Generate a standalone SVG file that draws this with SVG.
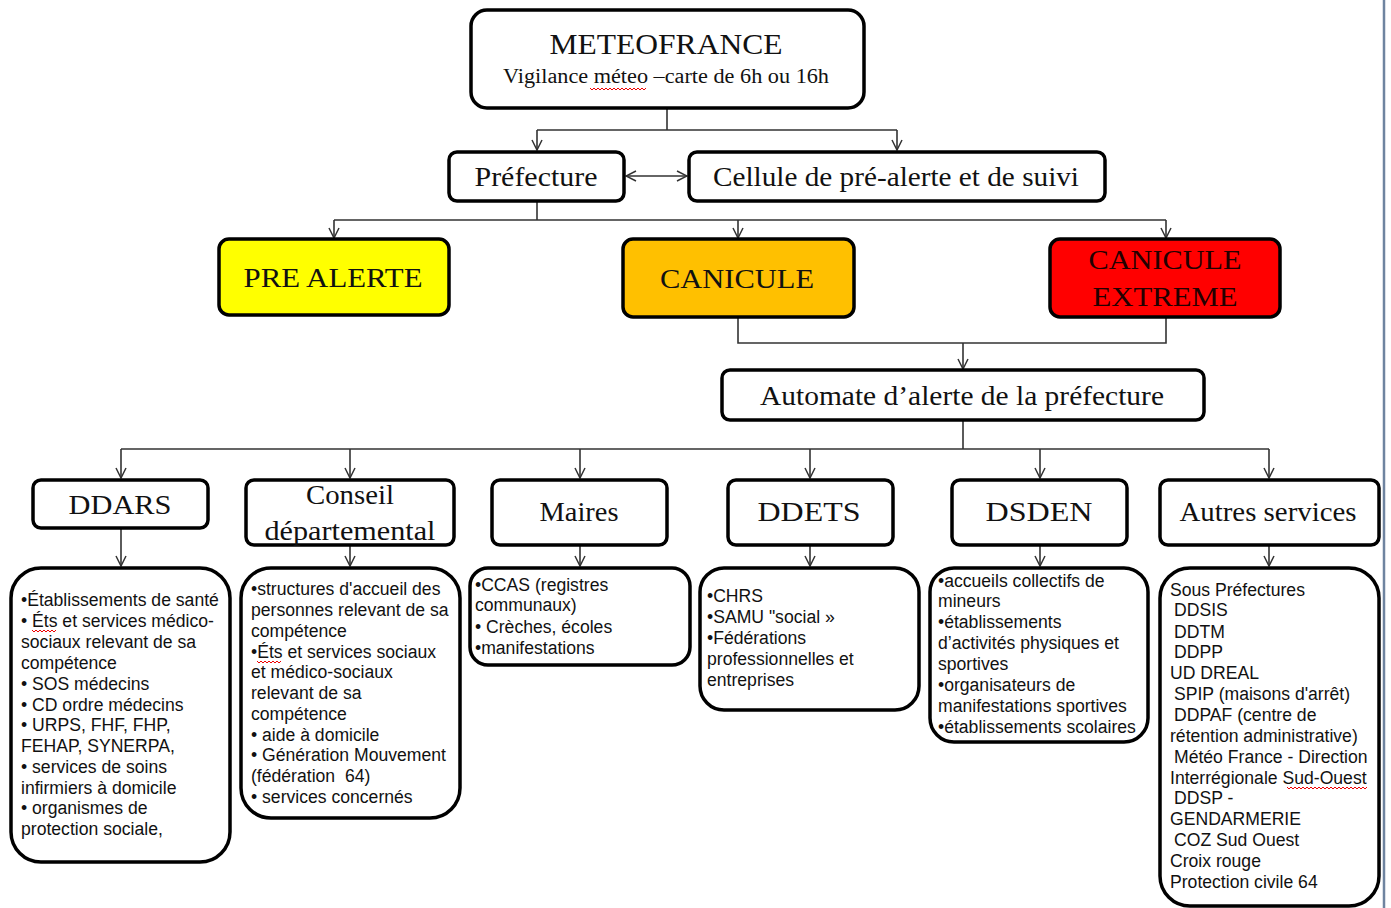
<svg xmlns="http://www.w3.org/2000/svg" width="1391" height="908" viewBox="0 0 1391 908">
<style>
.box{fill:#fff;stroke:#000;stroke-width:3.5}
.lst{fill:#fff;stroke:#000;stroke-width:3.5}
.t{font-family:"Liberation Serif",serif;fill:#111;text-anchor:middle}
.l{font-family:"Liberation Sans",Arial,sans-serif;font-size:17.6px;fill:#111}
.c{fill:none;stroke:#333;stroke-width:1.6}
.sq{fill:none;stroke:#e00;stroke-width:1}
</style>
<defs>
<marker id="ar" viewBox="0 0 12 12" refX="11" refY="6" markerWidth="12" markerHeight="12" markerUnits="userSpaceOnUse" orient="auto-start-reverse">
<path d="M1,1 L11,6 L1,11" fill="none" stroke="#333" stroke-width="1.5"/>
</marker>
</defs>
<rect x="0" y="0" width="1391" height="908" fill="#fff"/>
<line x1="1384" y1="0" x2="1384" y2="908" stroke="#6f84a0" stroke-width="2.5"/>

<g id="connectors">
<path class="c" d="M667,108 V130 M537,130 H897"/>
<path class="c" d="M537,130 V150" marker-end="url(#ar)"/>
<path class="c" d="M897,130 V150" marker-end="url(#ar)"/>
<path class="c" d="M626,176 H687" marker-start="url(#ar)" marker-end="url(#ar)"/>
<path class="c" d="M537,201 V220 M334,220 H1166"/>
<path class="c" d="M334,220 V238" marker-end="url(#ar)"/>
<path class="c" d="M738,220 V238" marker-end="url(#ar)"/>
<path class="c" d="M1166,220 V238" marker-end="url(#ar)"/>
<path class="c" d="M738,317 V343 H1166 V317"/>
<path class="c" d="M963,343 V369" marker-end="url(#ar)"/>
<path class="c" d="M963,420 V449 M121,449 H1269"/>
<path class="c" d="M121,449 V478" marker-end="url(#ar)"/>
<path class="c" d="M350,449 V478" marker-end="url(#ar)"/>
<path class="c" d="M580,449 V478" marker-end="url(#ar)"/>
<path class="c" d="M810,449 V478" marker-end="url(#ar)"/>
<path class="c" d="M1040,449 V478" marker-end="url(#ar)"/>
<path class="c" d="M1269,449 V478" marker-end="url(#ar)"/>
<path class="c" d="M121,528 V566" marker-end="url(#ar)"/>
<path class="c" d="M350,545 V566" marker-end="url(#ar)"/>
<path class="c" d="M580,545 V566" marker-end="url(#ar)"/>
<path class="c" d="M810,545 V566" marker-end="url(#ar)"/>
<path class="c" d="M1040,545 V566" marker-end="url(#ar)"/>
<path class="c" d="M1269,545 V566" marker-end="url(#ar)"/>
</g>

<g id="meteofrance">
<rect class="box" x="471" y="10" width="393" height="98" rx="16"/>
<text class="t" x="666" y="54" font-size="29" textLength="233" lengthAdjust="spacingAndGlyphs">METEOFRANCE</text>
<text class="t" x="666" y="83" font-size="20.5" textLength="326" lengthAdjust="spacingAndGlyphs">Vigilance méteo –carte de 6h ou 16h</text>
<path class="sq" d="M590,88 l2,2 l2,-2 l2,2 l2,-2 l2,2 l2,-2 l2,2 l2,-2 l2,2 l2,-2 l2,2 l2,-2 l2,2 l2,-2 l2,2 l2,-2 l2,2 l2,-2 l2,2 l2,-2 l2,2 l2,-2 l2,2 l2,-2 l2,2 l2,-2 l2,2 l2,-2"/>
</g>

<g id="prefecture">
<rect class="box" x="449" y="152" width="175" height="49" rx="8"/>
<text class="t" x="536" y="186" font-size="28" textLength="123" lengthAdjust="spacingAndGlyphs">Préfecture</text>
</g>

<g id="cellule">
<rect class="box" x="689" y="152" width="416" height="49" rx="8"/>
<text class="t" x="896" y="186" font-size="28" textLength="366" lengthAdjust="spacingAndGlyphs">Cellule de pré-alerte et de suivi</text>
</g>

<g id="prealerte">
<rect class="box" x="219" y="239" width="230" height="76" rx="10" style="fill:#ffff00"/>
<text class="t" x="333" y="287" font-size="28" textLength="179" lengthAdjust="spacingAndGlyphs">PRE ALERTE</text>
</g>

<g id="canicule">
<rect class="box" x="623" y="239" width="231" height="78" rx="10" style="fill:#ffc000"/>
<text class="t" x="737" y="288" font-size="28" textLength="154" lengthAdjust="spacingAndGlyphs">CANICULE</text>
</g>

<g id="canicule-extreme">
<rect class="box" x="1050" y="239" width="230" height="78" rx="10" style="fill:#ff0000"/>
<text class="t" x="1165" y="269" font-size="28" style="fill:#200" textLength="153" lengthAdjust="spacingAndGlyphs">CANICULE</text>
<text class="t" x="1165" y="306" font-size="28" style="fill:#200" textLength="145" lengthAdjust="spacingAndGlyphs">EXTREME</text>
</g>

<g id="automate">
<rect class="box" x="722" y="370" width="482" height="50" rx="8"/>
<text class="t" x="962" y="405" font-size="28" textLength="404" lengthAdjust="spacingAndGlyphs">Automate d’alerte de la préfecture</text>
</g>

<g id="ddars">
<rect class="box" x="33" y="480" width="175" height="48" rx="8"/>
<text class="t" x="120" y="514" font-size="28" textLength="103" lengthAdjust="spacingAndGlyphs">DDARS</text>
</g>

<g id="conseil">
<rect class="box" x="246" y="480" width="208" height="65" rx="8"/>
<text class="t" x="350" y="504" font-size="28" textLength="88" lengthAdjust="spacingAndGlyphs">Conseil</text>
<text class="t" x="350" y="540" font-size="28" textLength="171" lengthAdjust="spacingAndGlyphs">départemental</text>
</g>

<g id="maires">
<rect class="box" x="492" y="480" width="175" height="65" rx="8"/>
<text class="t" x="579" y="521" font-size="28" textLength="79" lengthAdjust="spacingAndGlyphs">Maires</text>
</g>

<g id="ddets">
<rect class="box" x="728" y="480" width="165" height="65" rx="8"/>
<text class="t" x="809" y="521" font-size="28" textLength="103" lengthAdjust="spacingAndGlyphs">DDETS</text>
</g>

<g id="dsden">
<rect class="box" x="952" y="480" width="175" height="65" rx="8"/>
<text class="t" x="1039" y="521" font-size="28" textLength="107" lengthAdjust="spacingAndGlyphs">DSDEN</text>
</g>

<g id="autres">
<rect class="box" x="1160" y="480" width="219" height="65" rx="8"/>
<text class="t" x="1268" y="521" font-size="28" textLength="177" lengthAdjust="spacingAndGlyphs">Autres services</text>
</g>

<g id="ddars-list">
<rect class="lst" x="11" y="568" width="219" height="294" rx="30"/>
<text class="l" x="21" y="606">•Établissements de santé</text>
<text class="l" x="21" y="627">• Éts et services médico-</text>
<text class="l" x="21" y="648">sociaux relevant de sa</text>
<text class="l" x="21" y="669">compétence</text>
<text class="l" x="21" y="690">• SOS médecins</text>
<text class="l" x="21" y="711">• CD ordre médecins</text>
<text class="l" x="21" y="731">• URPS, FHF, FHP,</text>
<text class="l" x="21" y="752">FEHAP, SYNERPA,</text>
<text class="l" x="21" y="773">• services de soins</text>
<text class="l" x="21" y="794">infirmiers à domicile</text>
<text class="l" x="21" y="814">• organismes de</text>
<text class="l" x="21" y="835">protection sociale,</text>
<path class="sq" d="M32,630 l2,2 l2,-2 l2,2 l2,-2 l2,2 l2,-2 l2,2 l2,-2 l2,2 l2,-2 l2,2 l2,-2"/>
</g>

<g id="conseil-list">
<rect class="lst" x="241" y="568" width="219" height="250" rx="30"/>
<text class="l" x="251" y="595">•structures d'accueil des</text>
<text class="l" x="251" y="616">personnes relevant de sa</text>
<text class="l" x="251" y="637">compétence</text>
<text class="l" x="251" y="658">•Éts et services sociaux</text>
<text class="l" x="251" y="678">et médico-sociaux</text>
<text class="l" x="251" y="699">relevant de sa</text>
<text class="l" x="251" y="720">compétence</text>
<text class="l" x="251" y="741">• aide à domicile</text>
<text class="l" x="251" y="761">• Génération Mouvement</text>
<text class="l" x="251" y="782" xml:space="preserve">(fédération  64)</text>
<text class="l" x="251" y="803">• services concernés</text>
<path class="sq" d="M257,661 l2,2 l2,-2 l2,2 l2,-2 l2,2 l2,-2 l2,2 l2,-2 l2,2 l2,-2 l2,2 l2,-2"/>
</g>

<g id="maires-list">
<rect class="lst" x="470" y="568" width="220" height="97" rx="18"/>
<text class="l" x="475" y="591">•CCAS (registres</text>
<text class="l" x="475" y="611">communaux)</text>
<text class="l" x="475" y="633">• Crèches, écoles</text>
<text class="l" x="475" y="654">•manifestations</text>
</g>

<g id="ddets-list">
<rect class="lst" x="700" y="568" width="219" height="142" rx="24"/>
<text class="l" x="707" y="602">•CHRS</text>
<text class="l" x="707" y="623">•SAMU "social »</text>
<text class="l" x="707" y="644">•Fédérations</text>
<text class="l" x="707" y="665">professionnelles et</text>
<text class="l" x="707" y="686">entreprises</text>
</g>

<g id="dsden-list">
<rect class="lst" x="930" y="568" width="218" height="174" rx="24"/>
<text class="l" x="938" y="587">•accueils collectifs de</text>
<text class="l" x="938" y="607">mineurs</text>
<text class="l" x="938" y="628">•établissements</text>
<text class="l" x="938" y="649">d’activités physiques et</text>
<text class="l" x="938" y="670">sportives</text>
<text class="l" x="938" y="691">•organisateurs de</text>
<text class="l" x="938" y="712">manifestations sportives</text>
<text class="l" x="938" y="733">•établissements scolaires</text>
</g>

<g id="autres-list">
<rect class="lst" x="1160" y="568" width="219" height="338" rx="30"/>
<text class="l" x="1170" y="596">Sous Préfectures</text>
<text class="l" x="1174" y="616">DDSIS</text>
<text class="l" x="1174" y="638">DDTM</text>
<text class="l" x="1174" y="658">DDPP</text>
<text class="l" x="1170" y="679">UD DREAL</text>
<text class="l" x="1174" y="700">SPIP (maisons d'arrêt)</text>
<text class="l" x="1174" y="721">DDPAF (centre de</text>
<text class="l" x="1170" y="742">rétention administrative)</text>
<text class="l" x="1174" y="763">Météo France - Direction</text>
<text class="l" x="1170" y="784">Interrégionale Sud-Ouest</text>
<text class="l" x="1174" y="804">DDSP -</text>
<text class="l" x="1170" y="825">GENDARMERIE</text>
<text class="l" x="1174" y="846">COZ Sud Ouest</text>
<text class="l" x="1170" y="867">Croix rouge</text>
<text class="l" x="1170" y="888">Protection civile 64</text>
<path class="sq" d="M1287,787 l2,2 l2,-2 l2,2 l2,-2 l2,2 l2,-2 l2,2 l2,-2 l2,2 l2,-2 l2,2 l2,-2 l2,2 l2,-2 l2,2 l2,-2 l2,2 l2,-2 l2,2 l2,-2 l2,2 l2,-2 l2,2 l2,-2 l2,2 l2,-2 l2,2 l2,-2 l2,2 l2,-2 l2,2 l2,-2 l2,2 l2,-2 l2,2 l2,-2 l2,2 l2,-2 l2,2 l2,-2"/>
</g>
</svg>
